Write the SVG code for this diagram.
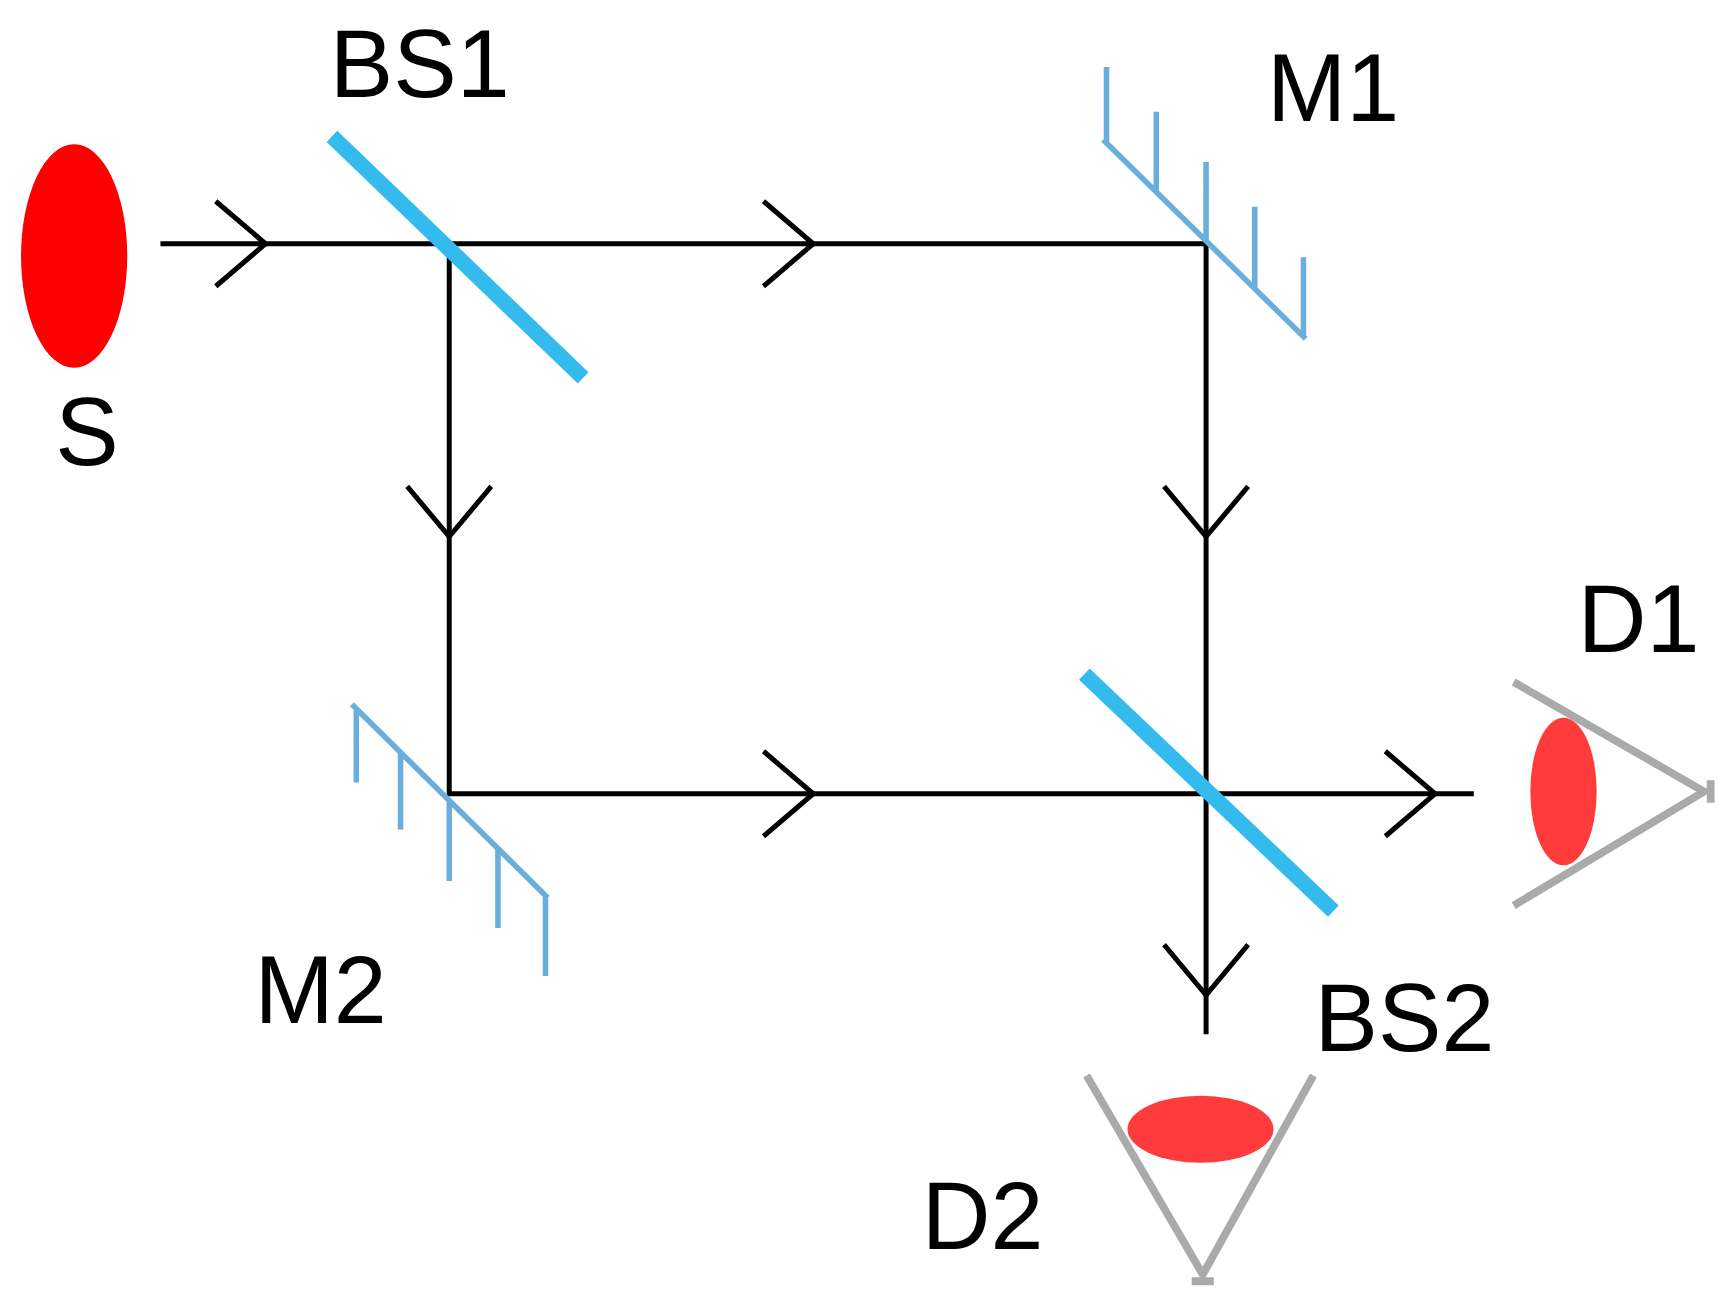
<svg xmlns="http://www.w3.org/2000/svg" width="1735" height="1297" viewBox="0 0 1735 1297">
<style>
.beam{stroke:#000;stroke-width:4.5;fill:none}
.bs{stroke:#33bbee;stroke-width:14;stroke-linecap:butt}
.mir{stroke:#6aaedb;stroke-width:5;fill:none}
.eye{stroke:#aaa;stroke-width:7;fill:none}
.lbl{font-family:"Liberation Sans",Arial,sans-serif;font-size:86px;fill:#000}
</style>
<rect width="1735" height="1297" fill="#fff"/>
<g transform="scale(1.1065 1.118)">
<g id="connectors" class="beam">
<path d="M145 218H1090V925M406 218V710H1332"/>
<path d="M195 180L240 218L195 256M690 180L735 218L690 256M690 672L735 710L690 748M1252 672L1297 710L1252 748"/>
<path d="M368 435L406 480L444 435M1052 435L1090 480L1128 435M1052 845L1090 890L1128 845"/>
</g>
<g id="S"><ellipse cx="67" cy="229" rx="48" ry="100" fill="#f00"/><text class="lbl" x="50" y="416">S</text></g>
<g id="BS1"><line class="bs" x1="300" y1="122" x2="527" y2="338"/><text class="lbl" x="298" y="87">BS1</text></g>
<g id="M1"><path class="mir" d="M997 125L1180 303M1000 128V60M1045 171V100M1090 214V145M1134 257V185M1178 300V230"/><text class="lbl" x="1145" y="108">M1</text></g>
<g id="M2"><path class="mir" d="M318 630L495 803M322 634V700M362 673V742M406 716V788M450 758V830M493 801V873"/><text class="lbl" x="230" y="915">M2</text></g>
<g id="BS2"><line class="bs" x1="980" y1="603" x2="1205" y2="815"/><text class="lbl" x="1188" y="940">BS2</text></g>
<g id="D1"><path class="eye" d="M1368 610L1540 708L1368 810M1546 698V718"/><ellipse cx="1413" cy="708" rx="30" ry="66" fill="#ff3b3b"/><text class="lbl" x="1426" y="583">D1</text></g>
<g id="D2"><path class="eye" d="M982 962L1087 1140L1187 962M1077 1146H1097"/><ellipse cx="1085" cy="1010" rx="66" ry="30" fill="#ff3b3b"/><text class="lbl" x="833" y="1117">D2</text></g>
</g>
</svg>
